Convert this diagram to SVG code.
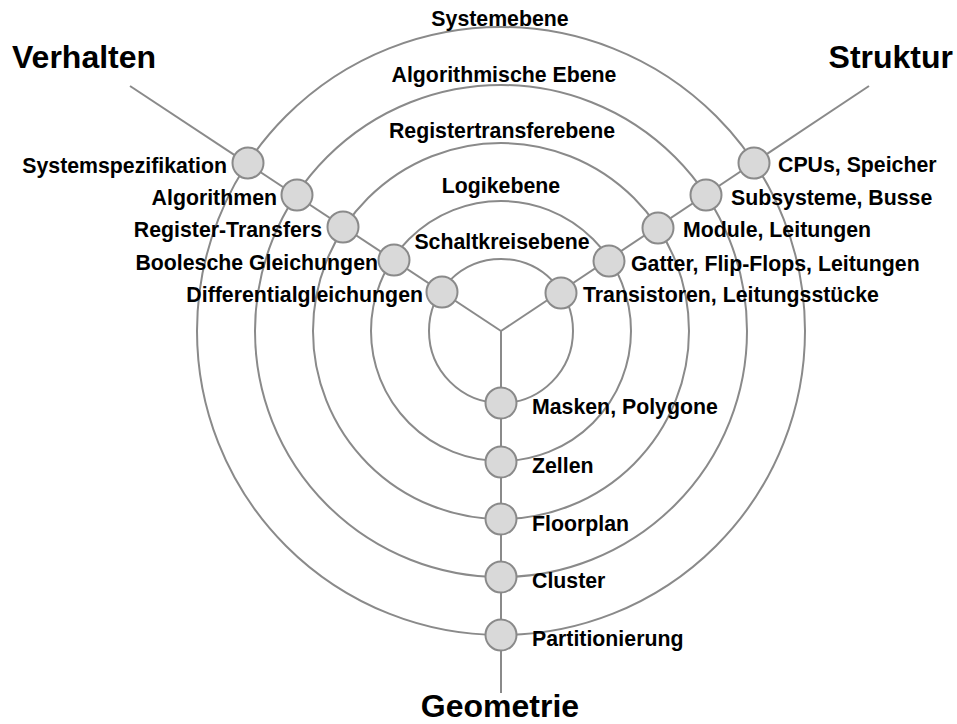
<svg xmlns="http://www.w3.org/2000/svg" width="957" height="724" viewBox="0 0 957 724">
  <style>
    .ring { fill: none; stroke: #8a8a8a; stroke-width: 2; }
    .axis { fill: none; stroke: #8a8a8a; stroke-width: 2; }
    .node circle { fill: #d9d9d9; stroke: #8a8a8a; stroke-width: 2; }
    text { font-family: "Liberation Sans", Arial, Helvetica, sans-serif; font-weight: bold; fill: #000; }
    .lbl { font-size: 21.3px; }
    .title { font-size: 32px; }
    .lvl { font-size: 21.3px; text-anchor: middle; }
    .end { text-anchor: end; }
  </style>

  <!-- abstraction levels: concentric rings around the centre -->
  <g id="levels">
    <circle class="ring" cx="501" cy="331" r="304"/>
    <circle class="ring" cx="501" cy="331" r="246"/>
    <circle class="ring" cx="501" cy="331" r="188"/>
    <circle class="ring" cx="501" cy="331" r="130"/>
    <circle class="ring" cx="501" cy="331" r="72"/>
    <text class="lvl" x="500" y="26">Systemebene</text>
    <text class="lvl" x="504" y="82">Algorithmische Ebene</text>
    <text class="lvl" x="502" y="138">Registertransferebene</text>
    <text class="lvl" x="501" y="193">Logikebene</text>
    <text class="lvl" x="502" y="249">Schaltkreisebene</text>
  </g>

  <!-- the three domain axes -->
  <g id="connectors">
    <line class="axis" x1="501" y1="331" x2="130" y2="86"/>
    <line class="axis" x1="501" y1="331" x2="869" y2="86"/>
    <line class="axis" x1="501" y1="331" x2="501" y2="693"/>
  </g>

  <g id="domain-titles">
    <text class="title" x="12" y="68">Verhalten</text>
    <text class="title end" x="953" y="68">Struktur</text>
    <text class="title" x="500" y="717" text-anchor="middle">Geometrie</text>
  </g>

  <!-- behaviour domain -->
  <g id="systemspezifikation" class="node"><circle cx="248" cy="163" r="15.5"/><text class="lbl end" x="227" y="173">Systemspezifikation</text></g>
  <g id="algorithmen" class="node"><circle cx="297" cy="195" r="15.5"/><text class="lbl end" x="277" y="205">Algorithmen</text></g>
  <g id="register-transfers" class="node"><circle cx="343" cy="227" r="15.5"/><text class="lbl end" x="322" y="237">Register-Transfers</text></g>
  <g id="boolesche-gleichungen" class="node"><circle cx="394" cy="260" r="15.5"/><text class="lbl end" x="378" y="270">Boolesche Gleichungen</text></g>
  <g id="differentialgleichungen" class="node"><circle cx="442" cy="292" r="15.5"/><text class="lbl end" x="423" y="302">Differentialgleichungen</text></g>

  <!-- structure domain -->
  <g id="cpus-speicher" class="node"><circle cx="754" cy="163" r="15.5"/><text class="lbl" x="778" y="172">CPUs, Speicher</text></g>
  <g id="subsysteme-busse" class="node"><circle cx="706" cy="195" r="15.5"/><text class="lbl" x="731" y="205">Subsysteme, Busse</text></g>
  <g id="module-leitungen" class="node"><circle cx="658" cy="228" r="15.5"/><text class="lbl" x="683" y="237">Module, Leitungen</text></g>
  <g id="gatter-flipflops" class="node"><circle cx="609" cy="261" r="15.5"/><text class="lbl" x="631" y="271">Gatter, Flip-Flops, Leitungen</text></g>
  <g id="transistoren" class="node"><circle cx="561" cy="293" r="15.5"/><text class="lbl" x="583" y="302">Transistoren, Leitungsstücke</text></g>

  <!-- geometry domain -->
  <g id="masken-polygone" class="node"><circle cx="501" cy="403" r="15.5"/><text class="lbl" x="532" y="414">Masken, Polygone</text></g>
  <g id="zellen" class="node"><circle cx="501" cy="462" r="15.5"/><text class="lbl" x="532" y="473">Zellen</text></g>
  <g id="floorplan" class="node"><circle cx="501" cy="519" r="15.5"/><text class="lbl" x="532" y="531">Floorplan</text></g>
  <g id="cluster" class="node"><circle cx="501" cy="577" r="15.5"/><text class="lbl" x="532" y="588">Cluster</text></g>
  <g id="partitionierung" class="node"><circle cx="501" cy="635" r="15.5"/><text class="lbl" x="532" y="646">Partitionierung</text></g>
</svg>
